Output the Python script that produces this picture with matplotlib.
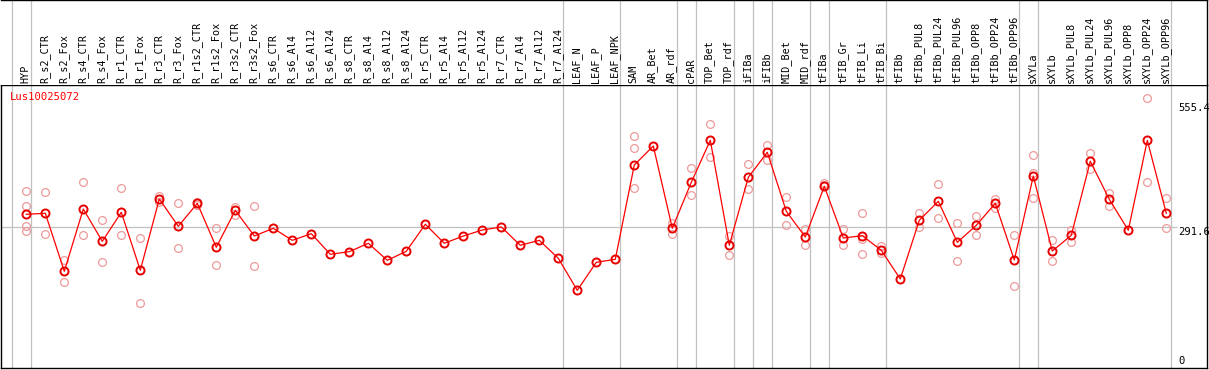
import matplotlib
matplotlib.use("Agg")
import matplotlib.pyplot as plt
import numpy as np

# ---------------- data ----------------
categories = [
    "HYP", "R_s2_CTR", "R_s2_Fox", "R_s4_CTR", "R_s4_Fox", "R_r1_CTR", "R_r1_Fox",
    "R_r3_CTR", "R_r3_Fox", "R_r1s2_CTR", "R_r1s2_Fox", "R_r3s2_CTR", "R_r3s2_Fox",
    "R_s6_CTR", "R_s6_Al4", "R_s6_Al12", "R_s6_Al24", "R_s8_CTR", "R_s8_Al4",
    "R_s8_Al12", "R_s8_Al24", "R_r5_CTR", "R_r5_Al4", "R_r5_Al12", "R_r5_Al24",
    "R_r7_CTR", "R_r7_Al4", "R_r7_Al12", "R_r7_Al24", "LEAF_N", "LEAF_P", "LEAF_NPK",
    "SAM", "AR_Bet", "AR_rdf", "cPAR", "TOP_Bet", "TOP_rdf", "iFIBa", "iFIBb",
    "MID_Bet", "MID_rdf", "tFIBa", "tFIB_Gr", "tFIB_Li", "tFIB_Bi", "tFIBb",
    "tFIBb_PUL8", "tFIBb_PUL24", "tFIBb_PUL96", "tFIBb_OPP8", "tFIBb_OPP24",
    "tFIBb_OPP96", "sXYLa", "sXYLb", "sXYLb_PUL8", "sXYLb_PUL24", "sXYLb_PUL96",
    "sXYLb_OPP8", "sXYLb_OPP24", "sXYLb_OPP96",
]

mean_values = [
    319.5, 321.6, 199.0, 330.7, 262.4, 323.7, 201.2, 351.8, 294.1, 342.7,
    249.8, 327.9, 273.6, 289.9, 264.5, 278.5, 235.0, 240.5, 258.2, 222.3,
    241.3, 298.4, 258.2, 273.6, 286.3, 292.7, 254.0, 264.5, 226.5, 158.9,
    218.1, 224.4, 423.7, 463.8, 289.9, 387.1, 475.8, 254.0, 397.7, 450.5,
    325.8, 271.5, 378.6, 269.4, 274.3, 243.4, 182.8, 306.8, 347.0, 260.3,
    296.2, 342.7, 222.9, 400.4, 241.9, 275.1, 431.5, 351.2, 285.7, 475.8,
    321.6,
]

replicates = [
    [368.1, 336.4, 294.8, 283.6], [366.0, 277.2], [222.9, 175.8], [387.1, 275.1],
    [306.8, 218.1], [374.4, 275.1], [268.8, 131.4], [358.2, 344.8], [342.7, 247.6],
    [345.5, 339.8], [289.9, 211.7], [335.5, 318.0], [336.4, 209.6],
    [], [], [], [], [], [], [], [], [], [], [], [], [], [], [], [], [], [], [],
    [484.9, 458.9, 374.4], [], [301.7, 277.2], [416.7, 359.6], [509.7, 439.9],
    [274.3, 232.9], [425.8, 372.3], [465.9, 433.6], [355.4, 296.2], [287.8, 254.0],
    [386.3, 381.4], [287.8, 254.0], [321.6, 267.9, 235.6], [251.9, 237.1], [],
    [322.2, 292.0], [382.9, 311.0], [300.5, 220.2], [315.9, 275.1], [352.5, 333.4],
    [275.1, 167.3], [444.2, 406.1, 354.6], [265.2, 220.2], [286.9, 261.6],
    [449.0, 414.6], [365.1, 336.4], [], [564.6, 387.1], [353.9, 289.9],
]

separators = [-1, 0, 28, 31, 34, 35, 37, 38, 39, 41, 42, 45, 52, 53, 60]
ytick_values = [0, 291.6, 555.4]
ytick_labels = ["0", "291.6", "555.4"]
gene_name = "Lus10025072"

# ---------------- layout (pixel based) ----------------
W, H = 1209, 370
fig = plt.figure(figsize=(W / 100, H / 100), dpi=100)
fig.patch.set_facecolor("white")

def fx(px):
    return px / W

def fy(py):
    return 1 - py / H

x0px, dxpx = 26.3, 19.0
y0px, vpp = 365.5, 2.113
left_px, right_px = 1, 1207
sep_px, bottom_px = 85, 368

xlim = ((left_px - x0px) / dxpx, (right_px - x0px) / dxpx)
ylim = ((y0px - bottom_px) * vpp, (y0px - sep_px) * vpp)

ax = fig.add_axes([fx(left_px), fy(bottom_px), fx(right_px) - fx(left_px),
                   fy(sep_px) - fy(bottom_px)])
axt = fig.add_axes([fx(left_px), fy(sep_px), fx(right_px) - fx(left_px),
                    fy(0) - fy(sep_px)])

for a in (ax, axt):
    a.set_xlim(*xlim)
    a.set_xticks([])
    a.set_yticks([])
    for s in a.spines.values():
        s.set_color("black")
        s.set_linewidth(1.0)
ax.set_ylim(*ylim)
axt.set_ylim(sep_px, 0)
axt.spines["left"].set_visible(False)
axt.spines["bottom"].set_visible(False)

grid_c = "#c0c0c0"
for k in separators:
    for a in (ax, axt):
        a.axvline(k + 0.23, color=grid_c, lw=0.9, zorder=1)

grid_end = (1177 - x0px) / dxpx
ax.hlines(ytick_values[1], xlim[0], grid_end, color=grid_c, lw=0.9, zorder=1)

x = np.arange(len(categories))

# replicates
rx, ry = [], []
for i, reps in enumerate(replicates):
    for v in reps:
        rx.append(i)
        ry.append(v)
ax.plot(rx, ry, linestyle="none", marker="o", markersize=5.6,
        markerfacecolor="none", markeredgecolor="#ee9a9a", markeredgewidth=0.9,
        zorder=3)

# main series
ax.plot(x, mean_values, color="#ff0000", lw=0.9, zorder=4)
ax.plot(x, mean_values, linestyle="none", marker="o", markersize=5.8,
        markerfacecolor="none", markeredgecolor="#e80000", markeredgewidth=1.4,
        zorder=5)

mono = "DejaVu Sans Mono"
# category labels
for i, lab in enumerate(categories):
    axt.text(i - 0.03, 83, lab, rotation=90, ha="center", va="bottom",
             fontsize=7.3, family=mono, color="black")

# y value labels
ylab_x = (1178 - x0px) / dxpx
for v, lab in zip(ytick_values, ytick_labels):
    va = "bottom" if v == 0 else "top"
    ax.text(ylab_x, v, lab, ha="left", va=va, fontsize=7.6, family=mono,
            color="black", zorder=6)

# gene name
ax.text((10 - left_px) / (right_px - left_px), 1 - (92 - sep_px) / (bottom_px - sep_px),
        gene_name, transform=ax.transAxes, ha="left", va="top", fontsize=7.6,
        family=mono, color="#ff0000")

fig.savefig("out.png", dpi=100, facecolor="white")
